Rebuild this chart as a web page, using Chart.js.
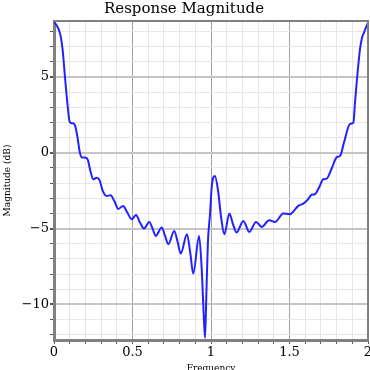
<!DOCTYPE html>
<html>
<head>
<meta charset="utf-8">
<script src="https://cdn.jsdelivr.net/npm/chart.js@4.4.1/dist/chart.umd.min.js"></script>
<style>
html, body { margin: 0; padding: 0; background: #fff; }
</style>
</head>
<body>
<canvas id="chartContainer" width="370" height="370"></canvas>
<script>
// Data
const frequency = [
    0.000, 0.017, 0.038, 0.055, 0.070, 0.085, 0.100, 0.115, 0.132, 0.150,
    0.165, 0.178, 0.198, 0.215, 0.232, 0.250, 0.270, 0.290, 0.310, 0.335,
    0.360, 0.385, 0.410, 0.440, 0.465, 0.495, 0.522, 0.548, 0.573, 0.607,
    0.628, 0.648, 0.686, 0.708, 0.728, 0.766, 0.788, 0.807, 0.847, 0.868,
    0.887, 0.924, 0.940, 0.955, 0.962, 0.970, 0.980, 0.994, 1.005, 1.025,
    1.045, 1.065, 1.085, 1.117, 1.140, 1.163, 1.206, 1.244, 1.287, 1.323,
    1.370, 1.408, 1.460, 1.503, 1.530, 1.556, 1.588, 1.615, 1.641, 1.662,
    1.690, 1.715, 1.737, 1.770, 1.800, 1.822, 1.850, 1.885, 1.907, 1.917,
    1.928, 1.949, 1.962, 1.975, 1.990, 2.000
];
const magnitude = [
    8.65, 8.40, 7.90, 6.80, 5.00, 3.30, 2.05, 1.95, 1.85, 1.00,
    0.00, -0.30, -0.30, -0.45, -1.20, -1.75, -1.65, -1.80, -2.50, -2.85,
    -2.80, -3.20, -3.70, -3.50, -3.90, -4.38, -4.10, -4.60, -5.00, -4.56,
    -5.00, -5.48, -4.93, -5.50, -6.03, -5.15, -5.90, -6.65, -5.37, -6.60,
    -7.97, -5.48, -7.50, -11.0, -12.2, -9.50, -6.00, -4.00, -2.20, -1.52,
    -2.50, -4.30, -5.37, -4.00, -4.70, -5.26, -4.49, -5.22, -4.56, -4.89,
    -4.45, -4.56, -4.00, -4.05, -3.80, -3.50, -3.35, -3.10, -2.77, -2.73,
    -2.25, -1.74, -1.70, -1.00, -0.30, -0.20, 0.80, 1.90, 2.00, 3.30,
    4.65, 6.85, 7.60, 7.95, 8.35, 8.60
];
const xTickLabels = [0, 0.5, 1, 1.5, 2];
const yTickLabels = [-10, -5, 0, 5];

let chart;

function isLabelled(list, v) {
    return list.some(t => Math.abs(t - v) < 1e-6);
}

function fmt(v) {
    return v < 0 ? '\u2212' + Math.abs(v) : String(v);
}

// top and right edges of the frame
const framePlugin = {
    id: 'frame',
    afterDraw(c) {
        const a = c.chartArea;
        const ctx = c.ctx;
        ctx.save();
        ctx.strokeStyle = '#808080';
        ctx.lineWidth = 2;
        ctx.beginPath();
        ctx.moveTo(a.left, a.top);
        ctx.lineTo(a.right, a.top);
        ctx.lineTo(a.right, a.bottom);
        ctx.stroke();
        ctx.restore();
    }
};

function renderChart() {
    const ctx = document.getElementById('chartContainer').getContext('2d');
    chart = new Chart(ctx, {
        type: 'line',
        data: {
            datasets: [{
                data: frequency.map((f, i) => ({ x: f, y: magnitude[i] })),
                borderColor: '#2222ff',
                borderWidth: 2,
                pointRadius: 0,
                cubicInterpolationMode: 'monotone',
                fill: false
            }]
        },
        options: {
            responsive: false,
            animation: false,
            layout: { padding: { right: 2 } },
            plugins: {
                legend: { display: false },
                tooltip: { enabled: false },
                title: {
                    display: true,
                    text: 'Response Magnitude',
                    color: '#000',
                    font: { family: 'DejaVu Serif', size: 15, weight: 'normal' },
                    padding: { top: 0, bottom: 3 }
                }
            },
            scales: {
                x: {
                    type: 'linear',
                    min: 0,
                    max: 2,
                    afterFit(s) { s.height = 30; s.paddingLeft = 0; s.paddingRight = 0; },
                    ticks: {
                        stepSize: 0.1,
                        includeBounds: false,
                        autoSkip: false,
                        maxRotation: 0,
                        padding: 1,
                        color: '#000',
                        font: { family: 'DejaVu Serif', size: 13 },
                        callback: v => isLabelled(xTickLabels, v) ? fmt(Math.round(v * 10) / 10) : ''
                    },
                    grid: {
                        color: c => isLabelled(xTickLabels, c.tick.value) ? '#a0a0a0' : '#e6e6e6',
                        lineWidth: 1,
                        tickColor: '#555',
                        tickLength: 4
                    },
                    border: { color: '#808080', width: 3 },
                    title: {
                        display: true,
                        text: 'Frequency',
                        color: '#000',
                        font: { family: 'DejaVu Serif', size: 9 },
                        padding: { top: 0, bottom: -4.4 }
                    }
                },
                y: {
                    min: -12.35,
                    max: 8.7,
                    afterFit(s) { s.width = 54; s.paddingTop = 0; s.paddingBottom = 0; },
                    ticks: {
                        stepSize: 1,
                        includeBounds: false,
                        autoSkip: false,
                        padding: 1,
                        color: '#000',
                        font: { family: 'DejaVu Serif', size: 13 },
                        callback: v => isLabelled(yTickLabels, v) ? fmt(Math.round(v)) : ''
                    },
                    grid: {
                        color: c => isLabelled(yTickLabels, c.tick.value) ? '#c4c4c4' : '#e6e6e6',
                        lineWidth: c => isLabelled(yTickLabels, c.tick.value) ? 2 : 1,
                        tickColor: '#555',
                        tickLength: 4
                    },
                    border: { color: '#808080', width: 3 },
                    title: {
                        display: true,
                        text: 'Magnitude (dB)',
                        color: '#000',
                        font: { family: 'DejaVu Serif', size: 9 },
                        padding: { top: 2, bottom: 0 }
                    }
                }
            }
        },
        plugins: [framePlugin]
    });
}

renderChart();
</script>
</body>
</html>
